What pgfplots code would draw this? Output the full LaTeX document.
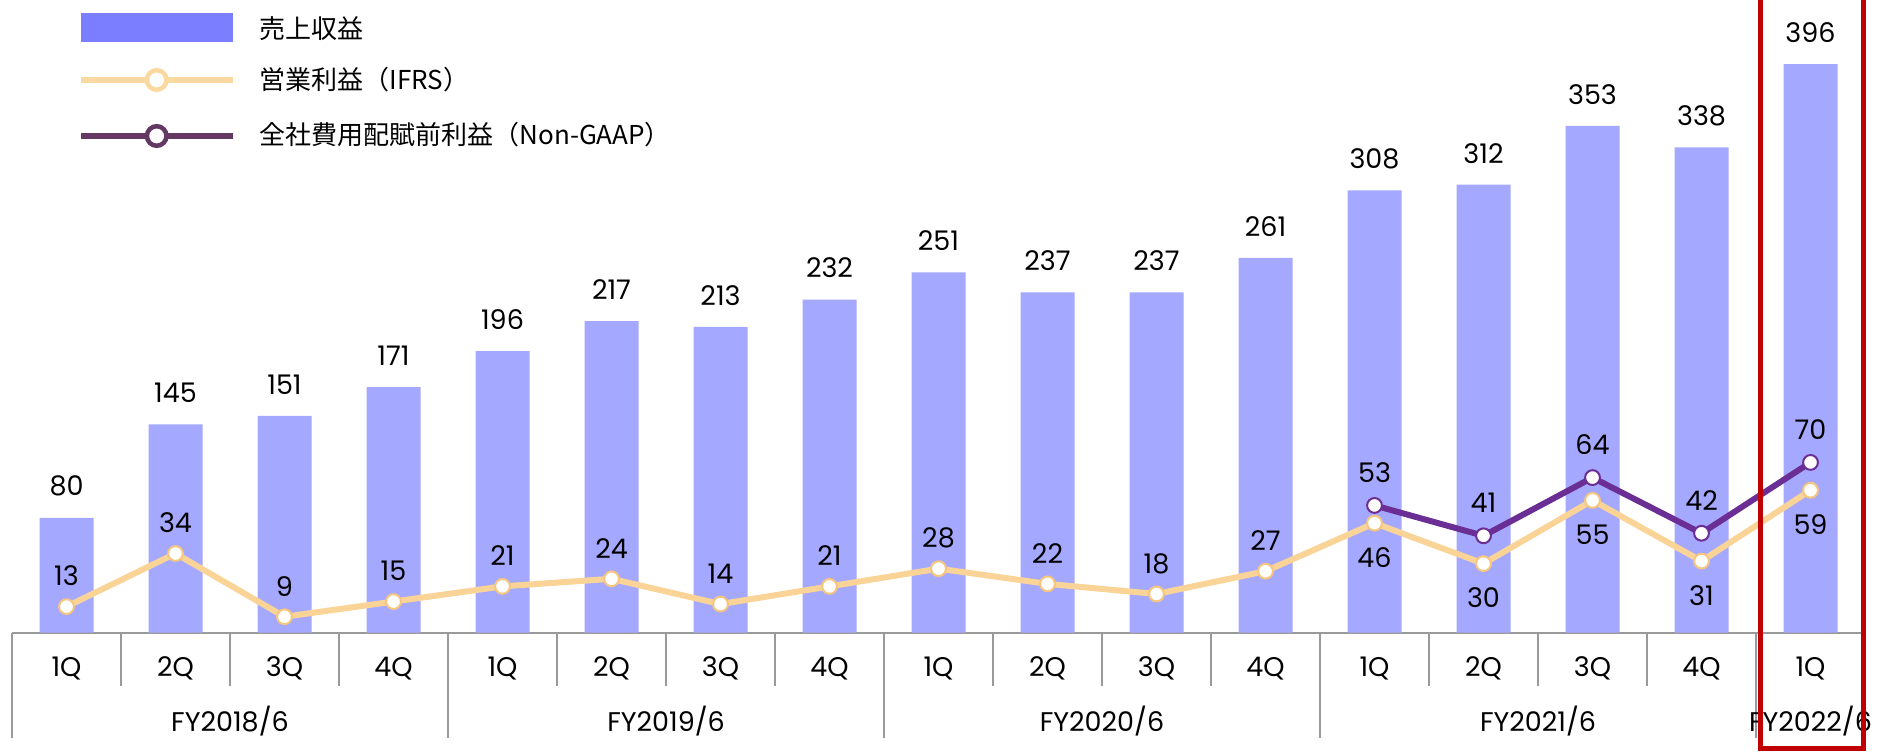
\documentclass[border=0pt]{standalone}
\usepackage{fontspec}
\setmainfont{Poppins}
\newfontfamily\cjk{Noto Sans CJK JP}
\usepackage{pgfplots}
\pgfplotsset{compat=1.18}
\usepackage{pgfplotstable}
\definecolor{barc}{HTML}{A5A8FF}
\definecolor{barleg}{HTML}{7B7FFF}
\definecolor{ifrsc}{HTML}{FAD396}
\definecolor{ifrsmk}{HTML}{F7C67E}
\definecolor{ifrsleg}{HTML}{FAD9A0}
\definecolor{ngc}{HTML}{6A2E94}
\definecolor{ngleg}{HTML}{633863}
\definecolor{sepg}{HTML}{9A9A9A}
\definecolor{boxred}{HTML}{C00000}
\newcommand{\lblfont}{\fontsize{13.5}{16}\selectfont}
\pgfplotsset{/pgf/number format/assume math mode=true}

\pgfplotstableread{
x rev
0 80
1 145
2 151
3 171
4 196
5 217
6 213
7 232
8 251
9 237
10 237
11 261
12 308
13 312
14 353
15 338
16 396
}\revtable

\pgfplotstableread{
x v
0 13
1 34
2 9
3 15
4 21
5 24
6 14
7 21
8 28
9 22
10 18
11 27
12 46
13 30
14 55
15 31
16 59
}\ifrstable

\pgfplotstableread{
x v
12 53
13 41
14 64
15 42
16 70
}\ngtable

\begin{document}
\begin{tikzpicture}[x=1pt,y=1pt]
\path (0,0) rectangle (939.5,376.5);
\begin{pgfinterruptboundingbox}
\begin{axis}[
  at={(6pt,60.15pt)}, anchor=south west, scale only axis,
  width=926.5pt, height=316.35pt,
  xmin=-0.5, xmax=16.5, ymin=0, ymax=440.6, clip=false,
  axis x line*=bottom, axis y line=none,
  x axis line style={draw=sepg, line width=1pt},
  ytick=\empty,
  xtick={0,...,16},
  xticklabels={1Q,2Q,3Q,4Q,1Q,2Q,3Q,4Q,1Q,2Q,3Q,4Q,1Q,2Q,3Q,4Q,1Q},
  xticklabel style={anchor=center, yshift=-17.8pt, font=\lblfont, text=black},
  tick align=outside,
  major tick length=0pt,
  minor xtick={0.5,1.5,2.5,4.5,5.5,6.5,8.5,9.5,10.5,12.5,13.5,14.5},
  minor tick length=26.5pt,
  tick style={draw=sepg, line width=0.75pt},
  extra x ticks={-0.5,3.5,7.5,11.5,15.5,16.5},
  extra x tick labels={},
  extra x tick style={major tick length=52.5pt, tick style={draw=sepg, line width=0.75pt}},
]
\addplot[ybar, bar shift=0pt, bar width=27pt, fill=barc, draw=none,
  nodes near coords,
  every node near coord/.append style={anchor=center, yshift=15.75pt, font=\lblfont, text=black}]
  table[x=x, y=rev] {\revtable};
\node[font=\lblfont, anchor=center] at (axis cs:1.5,0) [yshift=-44pt] {FY2018/6};
\node[font=\lblfont, anchor=center] at (axis cs:5.5,0) [yshift=-44pt] {FY2019/6};
\node[font=\lblfont, anchor=center] at (axis cs:9.5,0) [yshift=-44pt] {FY2020/6};
\node[font=\lblfont, anchor=center] at (axis cs:13.5,0) [yshift=-44pt] {FY2021/6};
\node[font=\lblfont, anchor=center] at (axis cs:16,0) [yshift=-44pt] {FY2022/6};
\end{axis}
\begin{axis}[
  at={(6pt,60.15pt)}, anchor=south west, scale only axis,
  width=926.5pt, height=316.35pt,
  xmin=-0.5, xmax=16.5, ymin=2.7, ymax=252.78, clip=false,
  axis lines=none, ticks=none,
]
\addplot[color=ifrsc, line width=3pt, line join=round,
  mark=*, mark size=3.7pt, mark options={fill=white, draw=ifrsmk, line width=1pt}]
  table[x=x, y=v] {\ifrstable};
\addplot[color=ngc, line width=3pt, line join=round,
  mark=*, mark size=3.7pt, mark options={fill=white, draw=ngc, line width=1pt}]
  table[x=x, y=v] {\ngtable};
% value labels
\addplot[draw=none, mark=none, point meta=explicit symbolic, nodes near coords,
  skip coords between index={12}{17},
  every node near coord/.append style={anchor=center, yshift=15.3pt, text=black, font=\lblfont}]
  table[x=x, y=v, meta=v] {\ifrstable};
\addplot[draw=none, mark=none, point meta=explicit symbolic, nodes near coords,
  skip coords between index={0}{12},
  every node near coord/.append style={anchor=center, yshift=-17.2pt, text=black, font=\lblfont}]
  table[x=x, y=v, meta=v] {\ifrstable};
\addplot[draw=none, mark=none, point meta=explicit symbolic, nodes near coords,
  every node near coord/.append style={anchor=center, yshift=16.5pt, text=black, font=\lblfont}]
  table[x=x, y=v, meta=v] {\ngtable};
\end{axis}
% highlight box
\draw[boxred, line width=2.5pt] (880,2) rectangle (931.75,382);
\end{pgfinterruptboundingbox}
% legend
\fill[barleg] (40.5,355.65) rectangle (116.5,369.85);
\node[anchor=west, inner sep=0pt, font=\cjk\fontsize{13}{15}\selectfont] at (129.65,362) {売上収益};
\draw[ifrsleg, line width=3pt] (40.5,336.5) -- (116.5,336.5);
\draw[ifrsleg, line width=2.25pt, fill=white] (78.35,336.5) circle (4.9);
\node[anchor=west, inner sep=0pt, font=\cjk\fontsize{13}{15}\selectfont] at (129.65,336.5) {営業利益（IFRS）};
\draw[ngleg, line width=3pt] (40.5,308.5) -- (116.5,308.5);
\draw[ngleg, line width=2.25pt, fill=white] (78.35,308.5) circle (4.9);
\node[anchor=west, inner sep=0pt, font=\cjk\fontsize{13}{15}\selectfont] at (129.65,309) {全社費用配賦前利益（Non-GAAP）};
\end{tikzpicture}
\end{document}
